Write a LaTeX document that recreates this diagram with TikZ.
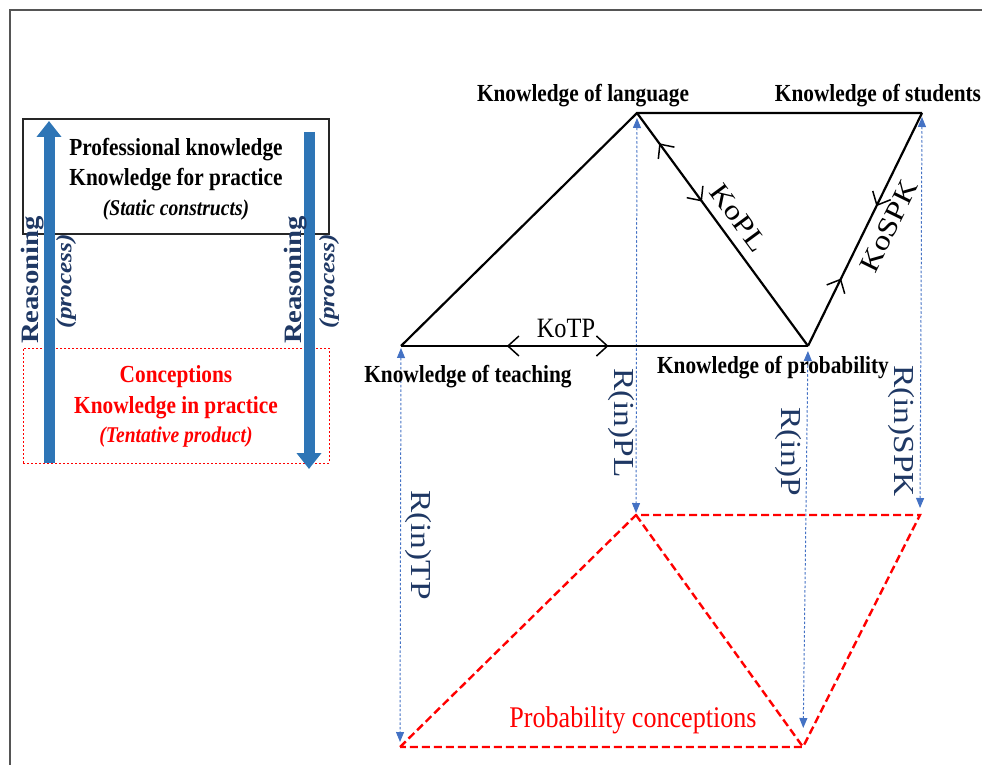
\documentclass[tikz,border=0pt]{standalone}
\usepackage{fontspec}
\setmainfont{Liberation Serif}[FakeStretch=0.87]
\newfontfamily\rotfont{Liberation Serif}[FakeStretch=1.15]
\usetikzlibrary{arrows.meta,decorations.markings}
\definecolor{navy}{HTML}{1F3864}
\definecolor{barblue}{HTML}{2E75B6}
\definecolor{dotblue}{HTML}{4472C4}
\definecolor{framegray}{HTML}{555555}
\definecolor{pred}{HTML}{FF0000}
\tikzset{kbarb/.tip={Straight Barb[length=11pt,width=20pt,line width=1.5pt]}}
\begin{document}
\begin{tikzpicture}[x=1pt,y=-1pt,
  hl/.style={inner sep=0pt, anchor=base, font=\bfseries\fontsize{24.5}{26}\selectfont},
  hli/.style={inner sep=0pt, anchor=base, font=\bfseries\itshape\fontsize{22.5}{24}\selectfont},
  kl/.style={inner sep=0pt, font=\fontsize{28}{30}\selectfont},
  klr/.style={inner sep=0pt, font=\rotfont\fontsize{28}{30}\selectfont},
  reas/.style={inner sep=0pt, rotate=90, text=navy, font=\rotfont\bfseries\fontsize{25}{27}\selectfont},
  proc/.style={inner sep=0pt, rotate=90, text=navy, font=\rotfont\bfseries\itshape\fontsize{22}{24}\selectfont},
  rin/.style={inner sep=0pt, rotate=-90, text=navy, font=\rotfont\fontsize{29}{31}\selectfont},
  kline/.style={line width=2.2pt, black},
  rarrow/.style={dotblue, line width=1pt, dash pattern=on 2.5pt off 2pt,
     {Triangle[length=10pt,width=8pt]}-{Triangle[length=10pt,width=8pt]}},
  rdash/.style={pred, line width=2.4pt, dash pattern=on 8pt off 4pt},
  bigarrow/.style={barblue, line width=11pt, -{Triangle[length=16pt,width=24pt]}},
  mk/.style={postaction={decorate}, decoration={markings, #1}}
]
\useasboundingbox (0,0) rectangle (982,765);

% frame
\coordinate (fr1) at (10,765);
\coordinate (fr2) at (10,10);
\coordinate (fr3) at (982,10);
\draw[framegray, line width=2pt] (fr1) -- (fr2) -- (fr3);

% ---------- left panel ----------
\node[draw=black!85, line width=1.2pt, minimum width=306pt, minimum height=115pt, inner sep=0pt] (pkbox) at (176,176.5) {};
\node[draw=pred, line width=1pt, dash pattern=on 2pt off 2pt, minimum width=306pt, minimum height=115pt, inner sep=0pt] (cbox) at (176,405.5) {};

\node[hl] (pk1) at (176,155) {Professional knowledge};
\node[hl] (pk2) at (176,185) {Knowledge for practice};
\node[hli] (pk3) at (176,215) {(Static constructs)};
\node[hl, text=pred] (cn1) at (176,382) {Conceptions};
\node[hl, text=pred] (cn2) at (176,413) {Knowledge in practice};
\node[hli, text=pred] (cn3) at (176,442) {(Tentative product)};

\coordinate (la1) at (49,463);
\coordinate (la2) at (49,121);
\coordinate (ra1) at (309,132);
\coordinate (ra2) at (309,469);
\draw[bigarrow] (la1) -- (la2);
\draw[bigarrow] (ra1) -- (ra2);

\node[reas] (re1) at (33,280) {Reasoning};
\node[proc] (pr1) at (66,281) {(process)};
\node[reas] (re2) at (296,280) {Reasoning};
\node[proc] (pr2) at (329,281) {(process)};

% ---------- right diagram ----------
\coordinate (T) at (401,346);
\coordinate (L) at (637,113);
\coordinate (S) at (922,113);
\coordinate (P) at (808,346);

\coordinate (RT) at (400,747);
\coordinate (RL) at (636,515);
\coordinate (RS) at (920,515);
\coordinate (RP) at (803,747);

% red dashed conceptions
\draw[rdash] (RT) -- (RL) -- (RS) -- (RP) -- cycle;
\draw[rdash] (RL) -- (RP);

% blue dotted arrows
\draw[rarrow, shorten <=2pt, shorten >=5pt] (T) -- (RT);
\draw[rarrow, shorten <=5pt, shorten >=2pt] (L) -- (RL);
\draw[rarrow, shorten <=5pt, shorten >=19pt] (P) -- (RP);
\draw[rarrow, shorten <=4pt, shorten >=7pt] (S) -- (RS);

% black knowledge lines
\draw[kline] (T) -- (L) -- (S);
\draw[kline, mk={mark=at position 0.26 with {\arrowreversed{kbarb}}, mark=at position 0.51 with {\arrow{kbarb}}}] (T) -- (P);
\draw[kline, mk={mark=at position 0.13 with {\arrowreversed{kbarb}}, mark=at position 0.38 with {\arrow{kbarb}}}] (L) -- (P);
\draw[kline, mk={mark=at position 0.29 with {\arrow{kbarb}}, mark=at position 0.60 with {\arrowreversed{kbarb}}}] (P) -- (S);

% vertex labels
\node[hl] (klang) at (583,102) {Knowledge of language};
\node[hl] (kstud) at (878,102) {Knowledge of students};
\node[hl] (kteach) at (468,382) {Knowledge of teaching};
\node[hl] (kprob) at (773,373) {Knowledge of probability};

% edge labels
\node[kl, anchor=base] (kotp) at (566,337) {KoTP};
\node[klr, rotate=-53.7, anchor=base] (kopl) at (731,223) {KoPL};
\node[klr, rotate=63.9, anchor=north] (kospk) at (880,222) {KoSPK};

% reasoning-in labels
\node[rin] (rtp) at (418,545) {R(in)TP};
\node[rin] (rpl) at (621,423) {R(in)PL};
\node[rin] (rp) at (788,452) {R(in)P};
\node[rin] (rspk) at (901,431) {R(in)SPK};

\node[inner sep=0pt, anchor=base, text=pred, font=\fontsize{30}{32}\selectfont] (probc) at (633,727) {Probability conceptions};
\end{tikzpicture}
\end{document}
